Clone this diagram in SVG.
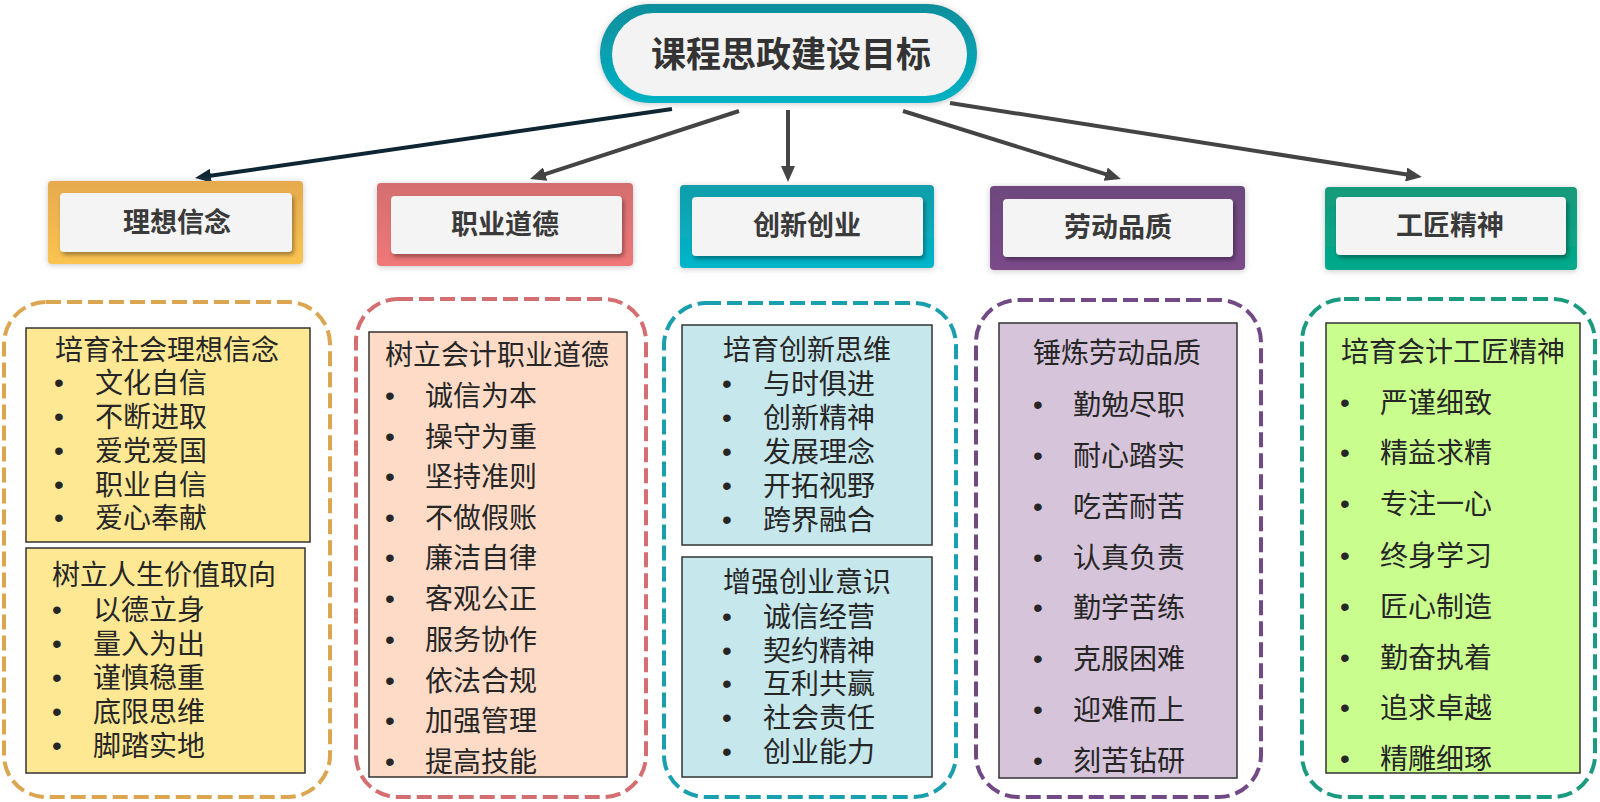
<svg xmlns="http://www.w3.org/2000/svg" width="1600" height="802" viewBox="0 0 1600 802">
<defs>
<style>
.t{font-family:"Noto Sans CJK SC","Noto Sans",sans-serif;font-size:28px;fill:#262626}
.b{font-family:"Liberation Sans",sans-serif;font-size:28px;fill:#262626;text-anchor:middle}
.cat{font-family:"Noto Sans CJK SC","Noto Sans",sans-serif;font-size:27px;font-weight:bold;fill:#3a3a3a;text-anchor:middle}
.inner{fill:#f4f4f4}
.dash{fill:none;stroke-width:4;stroke-dasharray:15 6}
.box{stroke:#333;stroke-width:1.5}
.conn{fill:none;stroke-width:4}
</style>
<linearGradient id="gGold" x1="0" y1="0" x2="0" y2="1"><stop offset="0" stop-color="#e5aa4e"/><stop offset="1" stop-color="#fac451"/></linearGradient>
<linearGradient id="gRed" x1="0" y1="0" x2="0" y2="1"><stop offset="0" stop-color="#d46e6f"/><stop offset="1" stop-color="#f07878"/></linearGradient>
<linearGradient id="gTeal" x1="0" y1="0" x2="0" y2="1"><stop offset="0" stop-color="#129dab"/><stop offset="1" stop-color="#00b6ca"/></linearGradient>
<linearGradient id="gPurple" x1="0" y1="0" x2="0" y2="1"><stop offset="0" stop-color="#6d497e"/><stop offset="1" stop-color="#7b4889"/></linearGradient>
<linearGradient id="gGreen" x1="0" y1="0" x2="0" y2="1"><stop offset="0" stop-color="#179a7b"/><stop offset="1" stop-color="#00aa8b"/></linearGradient>
<linearGradient id="gRing" x1="0" y1="0" x2="0" y2="1"><stop offset="0" stop-color="#0e8e9b"/><stop offset="1" stop-color="#00b2c5"/></linearGradient>
<filter id="halo" x="-10%" y="-20%" width="120%" height="140%"><feDropShadow dx="0" dy="1" stdDeviation="3" flood-color="#9a9a9a" flood-opacity="0.55"/></filter>
<filter id="ish" x="-10%" y="-20%" width="120%" height="140%"><feDropShadow dx="2" dy="3" stdDeviation="2" flood-color="#000" flood-opacity="0.35"/></filter>
<marker id="ahDark" markerUnits="userSpaceOnUse" markerWidth="16" markerHeight="14" refX="4" refY="7" orient="auto" viewBox="0 0 16 14"><path d="M0,0 L16,7 L0,14 z" fill="#0e2633"/></marker>
<marker id="ah" markerUnits="userSpaceOnUse" markerWidth="16" markerHeight="14" refX="4" refY="7" orient="auto" viewBox="0 0 16 14"><path d="M0,0 L16,7 L0,14 z" fill="#444"/></marker>
</defs>
<rect width="1600" height="802" fill="#fff"/>

<g id="connectors">
<line class="conn" x1="672" y1="109" x2="206.9" y2="176.3" stroke="#0e2633" marker-end="url(#ahDark)"/>
<line class="conn" x1="739" y1="111" x2="541.4" y2="175.3" stroke="#444" marker-end="url(#ah)"/>
<line class="conn" x1="788" y1="110" x2="788" y2="170" stroke="#444" marker-end="url(#ah)"/>
<line class="conn" x1="903" y1="111" x2="1109.5" y2="175.4" stroke="#444" marker-end="url(#ah)"/>
<line class="conn" x1="950" y1="103" x2="1410.1" y2="175.1" stroke="#444" marker-end="url(#ah)"/>
</g>

<g id="root">
<rect x="600" y="4" width="377" height="99" rx="49.5" fill="url(#gRing)" filter="url(#halo)"/>
<rect x="612" y="13" width="355" height="83" rx="41.5" fill="#f3f3f3"/>
<text x="791" y="67" font-family="Noto Sans CJK SC, Noto Sans, sans-serif" font-size="35" font-weight="bold" fill="#333" text-anchor="middle">课程思政建设目标</text>
</g>

<g id="cat1">
<rect x="48" y="181" width="255" height="83" rx="4" fill="url(#gGold)" filter="url(#halo)"/>
<rect class="inner" x="60" y="193" width="232" height="59" rx="4" filter="url(#ish)"/>
<text class="cat" x="177" y="232">理想信念</text>
</g>
<g id="cat2">
<rect x="377" y="183" width="256" height="83" rx="4" fill="url(#gRed)" filter="url(#halo)"/>
<rect class="inner" x="391" y="196" width="231" height="58" rx="4" filter="url(#ish)"/>
<text class="cat" x="505" y="234">职业道德</text>
</g>
<g id="cat3">
<rect x="680" y="185" width="254" height="83" rx="4" fill="url(#gTeal)" filter="url(#halo)"/>
<rect class="inner" x="692" y="197" width="231" height="59" rx="4" filter="url(#ish)"/>
<text class="cat" x="807" y="235">创新创业</text>
</g>
<g id="cat4">
<rect x="990" y="186" width="255" height="84" rx="4" fill="url(#gPurple)" filter="url(#halo)"/>
<rect class="inner" x="1003" y="199" width="230" height="58" rx="4" filter="url(#ish)"/>
<text class="cat" x="1118" y="237">劳动品质</text>
</g>
<g id="cat5">
<rect x="1325" y="187" width="252" height="83" rx="4" fill="url(#gGreen)" filter="url(#halo)"/>
<rect class="inner" x="1336" y="197" width="230" height="58" rx="4" filter="url(#ish)"/>
<text class="cat" x="1450" y="235">工匠精神</text>
</g>

<g id="col1">
<rect class="dash" x="4" y="302" width="326" height="495" rx="42" stroke="#dca54f"/>
<rect class="box" x="26" y="328" width="284" height="214" fill="#fee894"/>
<text class="t" x="55" y="360">培育社会理想信念</text>
<text class="b" x="59" y="392">•</text><text class="t" x="95" y="393">文化自信</text>
<text class="b" x="59" y="426">•</text><text class="t" x="95" y="427">不断进取</text>
<text class="b" x="59" y="460">•</text><text class="t" x="95" y="461">爱党爱国</text>
<text class="b" x="59" y="494">•</text><text class="t" x="95" y="495">职业自信</text>
<text class="b" x="59" y="527">•</text><text class="t" x="95" y="528">爱心奉献</text>
<rect class="box" x="26" y="548" width="279" height="225" fill="#fee894"/>
<text class="t" x="52" y="585">树立人生价值取向</text>
<text class="b" x="57" y="619">•</text><text class="t" x="93" y="620">以德立身</text>
<text class="b" x="57" y="653">•</text><text class="t" x="93" y="654">量入为出</text>
<text class="b" x="57" y="687">•</text><text class="t" x="93" y="688">谨慎稳重</text>
<text class="b" x="57" y="721">•</text><text class="t" x="93" y="722">底限思维</text>
<text class="b" x="57" y="755">•</text><text class="t" x="93" y="756">脚踏实地</text>
</g>

<g id="col2">
<rect class="dash" x="356" y="299" width="290" height="498" rx="42" stroke="#d46e70"/>
<rect class="box" x="369" y="332" width="258" height="445" fill="#fedbc6"/>
<text class="t" x="385" y="365">树立会计职业道德</text>
<text class="b" x="390" y="405">•</text><text class="t" x="425" y="406">诚信为本</text>
<text class="b" x="390" y="446">•</text><text class="t" x="425" y="447">操守为重</text>
<text class="b" x="390" y="486">•</text><text class="t" x="425" y="487">坚持准则</text>
<text class="b" x="390" y="527">•</text><text class="t" x="425" y="528">不做假账</text>
<text class="b" x="390" y="567">•</text><text class="t" x="425" y="568">廉洁自律</text>
<text class="b" x="390" y="608">•</text><text class="t" x="425" y="609">客观公正</text>
<text class="b" x="390" y="649">•</text><text class="t" x="425" y="650">服务协作</text>
<text class="b" x="390" y="690">•</text><text class="t" x="425" y="691">依法合规</text>
<text class="b" x="390" y="730">•</text><text class="t" x="425" y="731">加强管理</text>
<text class="b" x="390" y="771">•</text><text class="t" x="425" y="772">提高技能</text>
</g>

<g id="col3">
<rect class="dash" x="664" y="303" width="292" height="494" rx="42" stroke="#1a9fae"/>
<rect class="box" x="682" y="325" width="250" height="220" fill="#c6e8ec"/>
<text class="t" x="723" y="360">培育创新思维</text>
<text class="b" x="727" y="393">•</text><text class="t" x="763" y="394">与时俱进</text>
<text class="b" x="727" y="427">•</text><text class="t" x="763" y="428">创新精神</text>
<text class="b" x="727" y="461">•</text><text class="t" x="763" y="462">发展理念</text>
<text class="b" x="727" y="495">•</text><text class="t" x="763" y="496">开拓视野</text>
<text class="b" x="727" y="529">•</text><text class="t" x="763" y="530">跨界融合</text>
<rect class="box" x="682" y="557" width="250" height="220" fill="#c6e8ec"/>
<text class="t" x="723" y="592">增强创业意识</text>
<text class="b" x="727" y="626">•</text><text class="t" x="763" y="627">诚信经营</text>
<text class="b" x="727" y="660">•</text><text class="t" x="763" y="661">契约精神</text>
<text class="b" x="727" y="693">•</text><text class="t" x="763" y="694">互利共赢</text>
<text class="b" x="727" y="727">•</text><text class="t" x="763" y="728">社会责任</text>
<text class="b" x="727" y="761">•</text><text class="t" x="763" y="762">创业能力</text>
</g>

<g id="col4">
<rect class="dash" x="976" y="300" width="285" height="497" rx="42" stroke="#714a85"/>
<rect class="box" x="999" y="323" width="238" height="455" fill="#d6c4da"/>
<text class="t" x="1033" y="363">锤炼劳动品质</text>
<text class="b" x="1038" y="414">•</text><text class="t" x="1073" y="415">勤勉尽职</text>
<text class="b" x="1038" y="465">•</text><text class="t" x="1073" y="466">耐心踏实</text>
<text class="b" x="1038" y="516">•</text><text class="t" x="1073" y="517">吃苦耐苦</text>
<text class="b" x="1038" y="567">•</text><text class="t" x="1073" y="568">认真负责</text>
<text class="b" x="1038" y="617">•</text><text class="t" x="1073" y="618">勤学苦练</text>
<text class="b" x="1038" y="668">•</text><text class="t" x="1073" y="669">克服困难</text>
<text class="b" x="1038" y="719">•</text><text class="t" x="1073" y="720">迎难而上</text>
<text class="b" x="1038" y="770">•</text><text class="t" x="1073" y="771">刻苦钻研</text>
</g>

<g id="col5">
<rect class="dash" x="1302" y="299" width="293" height="498" rx="42" stroke="#1a9a7e"/>
<rect class="box" x="1326" y="323" width="254" height="450" fill="#c9fe8f"/>
<text class="t" x="1341" y="362">培育会计工匠精神</text>
<text class="b" x="1345" y="412">•</text><text class="t" x="1380" y="413">严谨细致</text>
<text class="b" x="1345" y="462">•</text><text class="t" x="1380" y="463">精益求精</text>
<text class="b" x="1345" y="513">•</text><text class="t" x="1380" y="514">专注一心</text>
<text class="b" x="1345" y="565">•</text><text class="t" x="1380" y="566">终身学习</text>
<text class="b" x="1345" y="616">•</text><text class="t" x="1380" y="617">匠心制造</text>
<text class="b" x="1345" y="667">•</text><text class="t" x="1380" y="668">勤奋执着</text>
<text class="b" x="1345" y="717">•</text><text class="t" x="1380" y="718">追求卓越</text>
<text class="b" x="1345" y="768">•</text><text class="t" x="1380" y="769">精雕细琢</text>
</g>
</svg>
